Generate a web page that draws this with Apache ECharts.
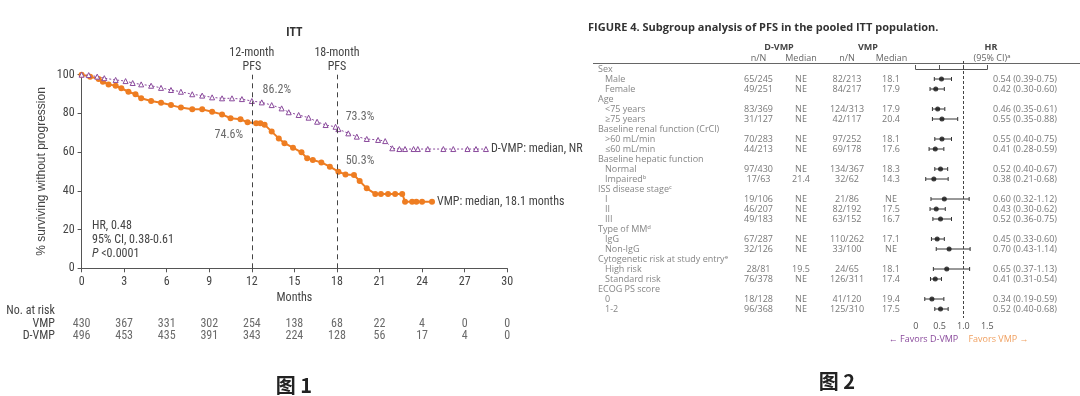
<!DOCTYPE html>
<html>
<head>
<meta charset="utf-8">
<title>PFS - ITT</title>
<script src="https://cdn.jsdelivr.net/npm/echarts@6/dist/echarts.min.js"></script>
<style>
  html, body { margin: 0; padding: 0; background: #fff; }
  #chart { width: 1080px; height: 396px; }
</style>
</head>
<body>
<div id="chart"></div>
<script>
// ---- 图1: Kaplan-Meier 曲线 (月, %) ----
const vmpCurve = [
  [0, 100], [0.6, 99], [1.2, 97.8], [1.5, 96.4], [1.9, 95], [2.4, 94.3], [2.8, 93],
  [3.3, 91.2], [3.8, 89.9], [4.2, 87.8], [4.9, 86.4], [5.6, 85.5], [6.3, 84.3],
  [7.0, 83], [7.8, 82.1], [8.5, 82.1], [9.2, 80.9], [9.9, 79.5], [10.5, 77.5],
  [11.2, 77], [11.7, 75.4], [12.3, 74.9], [12.6, 74.9], [12.9, 74.2], [13.4, 70.6],
  [13.9, 67.1], [14.3, 64.6], [14.9, 62.3], [15.5, 59.9], [15.9, 56.8], [16.3, 55.9],
  [16.9, 54.7], [17.5, 52.5], [18.1, 49.9], [18.6, 48.5], [19.2, 48.2], [19.6, 45.1],
  [20.1, 41.3], [20.7, 38.4], [21.1, 38.4], [21.6, 38.4], [22.1, 38.4], [22.6, 38.4],
  [22.8, 34.4], [23.3, 34.4], [23.6, 34.4], [24.0, 34.4], [24.7, 34.4]
];
const dvmpCurve = [
  [0, 100], [0.5, 99.8], [1.1, 99], [1.6, 98.2], [2.4, 97.3], [3.1, 96.7], [3.6, 95.7],
  [4.2, 95], [4.9, 94.3], [5.6, 93.2], [6.3, 92.1], [7.0, 91.2], [7.8, 89.9], [8.5, 89.2],
  [9.2, 88.3], [9.9, 87.8], [10.6, 87.8], [11.3, 87.4], [12.0, 86.4], [12.7, 85.7],
  [13.4, 84.3], [14.1, 82.6], [14.6, 80.6], [15.3, 79.2], [16.0, 77.8], [16.6, 75.7],
  [17.2, 74], [17.9, 73.1], [18.1, 71.9], [18.8, 69.7], [19.4, 68], [20.1, 66.8],
  [20.9, 66.3], [21.4, 65.7], [21.9, 62], [22.4, 61.6], [22.8, 61.6], [23.4, 61.6],
  [23.7, 61.6], [24.4, 61.6], [25.5, 61.6], [26.2, 61.6], [27.2, 61.6], [27.8, 61.6], [28.5, 61.6]
];
const vmpLandmarks = [[12, 74.6], [18, 50.3]];
const dvmpLandmarks = [[12, 86.2], [18, 73.3]];
const landmarkMonths = [12, 18];

const monthTicks = [0, 3, 6, 9, 12, 15, 18, 21, 24, 27, 30];
const riskRows = ['No. at risk', 'VMP', 'D-VMP'];
const riskVMP = [430, 367, 331, 302, 254, 138, 68, 22, 4, 0, 0];
const riskDVMP = [496, 453, 435, 391, 343, 224, 128, 56, 17, 4, 0];

// ---- 图2: 亚组分析森林图 ----
const rowLabels = [
  'Sex', 'Male', 'Female',
  'Age', '<75 years', '\u226575 years',
  'Baseline renal function (CrCl)', '>60 mL/min', '\u226460 mL/min',
  'Baseline hepatic function', 'Normal', 'Impaired\u1d47',
  'ISS disease stage\u1d9c', 'I', 'II', 'III',
  'Type of MM\u1d48', 'IgG', 'Non-IgG',
  'Cytogenetic risk at study entry\u1d49', 'High risk', 'Standard risk',
  'ECOG PS score', '0', '1-2'
];
const rowLevel = [0,1,1, 0,1,1, 0,1,1, 0,1,1, 0,1,1,1, 0,1,1, 0,1,1, 0,1,1];
const dvmpNN = ['', '65/245', '49/251', '', '83/369', '31/127', '', '70/283', '44/213', '',
  '97/430', '17/63', '', '19/106', '46/207', '49/183', '', '67/287', '32/126', '',
  '28/81', '76/378', '', '18/128', '96/368'];
const dvmpMedian = ['', 'NE', 'NE', '', 'NE', 'NE', '', 'NE', 'NE', '', 'NE', '21.4', '',
  'NE', 'NE', 'NE', '', 'NE', 'NE', '', '19.5', 'NE', '', 'NE', 'NE'];
const vmpNN = ['', '82/213', '84/217', '', '124/313', '42/117', '', '97/252', '69/178', '',
  '134/367', '32/62', '', '21/86', '82/192', '63/152', '', '110/262', '33/100', '',
  '24/65', '126/311', '', '41/120', '125/310'];
const vmpMedian = ['', '18.1', '17.9', '', '17.9', '20.4', '', '18.1', '17.6', '', '18.3', '14.3', '',
  'NE', '17.5', '16.7', '', '17.1', 'NE', '', '18.1', '17.4', '', '19.4', '17.5'];
const hr = [null, 0.54, 0.42, null, 0.46, 0.55, null, 0.55, 0.41, null, 0.52, 0.38, null,
  0.60, 0.43, 0.52, null, 0.45, 0.70, null, 0.65, 0.41, null, 0.34, 0.52];
const hrLow = [null, 0.39, 0.30, null, 0.35, 0.35, null, 0.40, 0.28, null, 0.40, 0.21, null,
  0.32, 0.30, 0.36, null, 0.33, 0.43, null, 0.37, 0.31, null, 0.19, 0.40];
const hrHigh = [null, 0.75, 0.60, null, 0.61, 0.88, null, 0.75, 0.59, null, 0.67, 0.68, null,
  1.12, 0.62, 0.75, null, 0.60, 1.14, null, 1.13, 0.54, null, 0.59, 0.68];

// ---- 样式 ----
const ORANGE = '#ee7d22';
const PURPLE = '#8a4a9c';
const TXT = '#444';
const NARROW = '"Liberation Sans Narrow", "Roboto Condensed", "Arial Narrow", "Liberation Sans", sans-serif';
const SANS = '"Open Sans", "Noto Sans", sans-serif';
const CJK = '"Noto Sans CJK SC", sans-serif';

// 表格列位置 (像素坐标轴)
const COL = { grp: 598, sub: 605, dNN: 758.5, dMed: 801, vNN: 847, vMed: 891, hr: 1057 };

const chart = echarts.init(document.getElementById('chart'));

function txt(x, y, text, extra) {
  return {
    type: 'text', x: x, y: y, silent: true,
    style: Object.assign({
      text: text, fill: TXT, fontFamily: SANS, fontSize: 9,
      align: 'center', verticalAlign: 'middle',
      textAlign: 'center', textVerticalAlign: 'middle'
    }, extra || {})
  };
}

function textColumn(values, x, position, extraLabel) {
  return {
    type: 'scatter', xAxisIndex: 3, yAxisIndex: 3, symbolSize: 0, silent: true,
    data: values.map((v, i) => ({ value: [x, i], name: v })).filter(d => d.name !== ''),
    label: Object.assign({
      show: true, position: position, distance: 0,
      formatter: p => p.name, color: '#555', fontFamily: SANS, fontSize: 9
    }, extraLabel || {})
  };
}

const forestRows = hr.map((v, i) => v == null ? null : [hrLow[i], hrHigh[i], i, v]).filter(Boolean);

const option = {
  animation: false,
  backgroundColor: '#fff',
  grid: [
    { left: 81.6, top: 74.7, width: 425.6, height: 193.6 },   // KM
    { left: 81.6, top: 304.6, width: 425.6, height: 38.1 },   // at risk
    { left: 915.7, top: 61, width: 71.6, height: 257 },       // forest
    { left: 580, top: 61, width: 500, height: 257 }           // 表格文字
  ],
  xAxis: [
    {
      gridIndex: 0, type: 'value', min: 0, max: 30, interval: 3,
      splitLine: { show: false },
      axisLine: { lineStyle: { color: '#555', width: 1 } },
      axisTick: { length: 4, lineStyle: { color: '#555' } },
      axisLabel: { color: TXT, fontFamily: NARROW, fontSize: 12, margin: 8 },
      name: 'Months', nameLocation: 'middle', nameGap: 24,
      nameTextStyle: { color: TXT, fontFamily: NARROW, fontSize: 12 }
    },
    { gridIndex: 1, type: 'value', min: 0, max: 30, show: false },
    {
      gridIndex: 2, type: 'value', min: 0, max: 1.5, interval: 0.5,
      splitLine: { show: false },
      axisLine: { lineStyle: { color: '#555', width: 1 } },
      axisTick: { inside: true, length: 4, lineStyle: { color: '#555' } },
      axisLabel: {
        color: '#555', fontFamily: SANS, fontSize: 9, margin: 4,
        formatter: v => (v === 0 ? '0' : v.toFixed(1))
      }
    },
    { gridIndex: 3, type: 'value', min: 580, max: 1080, show: false }
  ],
  yAxis: [
    {
      gridIndex: 0, type: 'value', min: 0, max: 100, interval: 20,
      splitLine: { show: false },
      axisLine: { show: true, lineStyle: { color: '#555', width: 1 } },
      axisTick: { show: true, length: 4, lineStyle: { color: '#555' } },
      axisLabel: { color: TXT, fontFamily: NARROW, fontSize: 12, margin: 7 },
      name: '% surviving without progression', nameLocation: 'middle', nameGap: 34,
      nameTextStyle: { color: TXT, fontFamily: '"Liberation Sans", sans-serif', fontSize: 12 }
    },
    {
      gridIndex: 1, type: 'category', data: riskRows, inverse: true,
      axisLine: { show: false }, axisTick: { show: false },
      axisLabel: { interval: 0, color: TXT, fontFamily: NARROW, fontSize: 12, margin: 26.6 }
    },
    { gridIndex: 2, type: 'value', min: -0.8, max: 24.9, inverse: true, show: false },
    { gridIndex: 3, type: 'value', min: -0.8, max: 24.9, inverse: true, show: false }
  ],
  graphic: [
    txt(294.4, 33, 'ITT', { fontFamily: NARROW, fontSize: 12, fontWeight: 'bold', fill: '#333' }),
    {
      type: 'text', left: 92, top: 219, silent: true,
      style: {
        text: 'HR, 0.48\n95% CI, 0.38-0.61\n{i|P} <0.0001',
        fill: TXT, fontFamily: NARROW, fontSize: 12, lineHeight: 14,
        rich: { i: { fontStyle: 'italic', fontFamily: NARROW, fontSize: 12, fill: TXT, lineHeight: 14 } }
      }
    },
    txt(294, 385, '图 1', { fontFamily: CJK, fontSize: 20, fontWeight: 'bold', fill: '#222' }),
    txt(837, 381, '图 2', { fontFamily: CJK, fontSize: 20, fontWeight: 'bold', fill: '#222' }),
    txt(588, 28, 'FIGURE 4. Subgroup analysis of PFS in the pooled ITT population.',
      { fontSize: 11, fontWeight: 'bold', fill: '#333', align: 'left', textAlign: 'left' }),
    txt(779, 47.5, 'D-VMP', { fontWeight: 'bold', fill: '#444' }),
    txt(868, 47.5, 'VMP', { fontWeight: 'bold', fill: '#444' }),
    txt(991, 47.5, 'HR', { fontWeight: 'bold', fill: '#444' }),
    txt(COL.dNN, 58, 'n/N', { fill: '#666' }),
    txt(COL.dMed, 58, 'Median', { fill: '#666' }),
    txt(COL.vNN, 58, 'n/N', { fill: '#666' }),
    txt(COL.vMed + 0.5, 58, 'Median', { fill: '#666' }),
    txt(992, 58, '(95% CI)\u1d43', { fill: '#666' }),
    {
      type: 'line', silent: true,
      shape: { x1: 593, y1: 63.5, x2: 1080, y2: 63.5 },
      style: { stroke: '#666', lineWidth: 1 }
    },
    txt(923.5, 339, '\u2190 Favors D-VMP', { fill: PURPLE }),
    txt(998.5, 339, 'Favors VMP \u2192', { fill: '#f0a060' })
  ],
  series: [
    {
      name: 'VMP', type: 'line', xAxisIndex: 0, yAxisIndex: 0,
      data: vmpCurve, symbol: 'circle', symbolSize: 6, showAllSymbol: true,
      lineStyle: { color: ORANGE, width: 2 }, itemStyle: { color: ORANGE },
      endLabel: {
        show: true, formatter: 'VMP: median, 18.1 months', distance: 5,
        color: TXT, fontFamily: NARROW, fontSize: 12
      },
      markLine: {
        silent: true, symbol: 'none',
        lineStyle: { color: '#444', type: [5, 4], width: 1 },
        label: {
          show: true, position: 'end', distance: 1,
          color: TXT, fontFamily: NARROW, fontSize: 12, lineHeight: 14
        },
        data: landmarkMonths.map(m => [
          { coord: [m, 0] },
          { coord: [m, 100], label: { formatter: m + '-month\nPFS' } }
        ])
      }
    },
    {
      name: 'D-VMP', type: 'line', xAxisIndex: 0, yAxisIndex: 0,
      data: dvmpCurve, symbol: 'triangle', symbolSize: 5, showAllSymbol: true,
      lineStyle: { color: PURPLE, width: 1, type: [2, 2] },
      itemStyle: { color: '#fff', borderColor: PURPLE, borderWidth: 1 },
      endLabel: {
        show: true, formatter: 'D-VMP: median, NR', distance: 5,
        color: TXT, fontFamily: NARROW, fontSize: 12
      }
    },
    {
      // 12/18个月 PFS 数值标注
      type: 'scatter', xAxisIndex: 0, yAxisIndex: 0, symbolSize: 0, silent: true,
      data: [
        { value: dvmpLandmarks[0], label: { offset: [25, -11] } },
        { value: dvmpLandmarks[1], label: { offset: [23, -9] } },
        { value: vmpLandmarks[0], label: { offset: [-23, 11] } },
        { value: vmpLandmarks[1], label: { offset: [23, -10] } }
      ],
      label: {
        show: true, position: 'inside', formatter: p => p.value[1].toFixed(1) + '%',
        color: TXT, fontFamily: NARROW, fontSize: 12
      }
    },
    {
      // No. at risk
      type: 'scatter', xAxisIndex: 1, yAxisIndex: 1, symbolSize: 0, silent: true,
      data: monthTicks.map((m, i) => [m, 'VMP', riskVMP[i]])
        .concat(monthTicks.map((m, i) => [m, 'D-VMP', riskDVMP[i]])),
      label: {
        show: true, position: 'inside', formatter: p => p.value[2],
        color: TXT, fontFamily: NARROW, fontSize: 12
      }
    },
    {
      // 95% CI
      type: 'custom', xAxisIndex: 2, yAxisIndex: 2, silent: true,
      data: forestRows,
      encode: { x: [0, 1], y: 2 },
      renderItem: function (params, api) {
        const a = api.coord([api.value(0), api.value(2)]);
        const b = api.coord([api.value(1), api.value(2)]);
        const st = { stroke: '#333', lineWidth: 1 };
        return {
          type: 'group',
          children: [
            { type: 'line', shape: { x1: a[0], y1: a[1], x2: b[0], y2: b[1] }, style: st },
            { type: 'line', shape: { x1: a[0], y1: a[1] - 2, x2: a[0], y2: a[1] + 2 }, style: st },
            { type: 'line', shape: { x1: b[0], y1: b[1] - 2, x2: b[0], y2: b[1] + 2 }, style: st }
          ]
        };
      }
    },
    {
      type: 'scatter', xAxisIndex: 2, yAxisIndex: 2, silent: true,
      data: forestRows.map(r => [r[3], r[2]]),
      symbol: 'circle', symbolSize: 5, itemStyle: { color: '#111' },
      markLine: {
        silent: true, symbol: 'none', label: { show: false },
        lineStyle: { color: '#444', type: [3, 2], width: 1 },
        data: [{ xAxis: 1 }]
      }
    },
    textColumn(rowLabels.map((l, i) => rowLevel[i] === 0 ? l : ''), COL.grp, 'right', { color: '#666' }),
    textColumn(rowLabels.map((l, i) => rowLevel[i] === 1 ? l : ''), COL.sub, 'right', { color: '#666' }),
    textColumn(dvmpNN, COL.dNN, 'inside'),
    textColumn(dvmpMedian, COL.dMed, 'inside'),
    textColumn(vmpNN, COL.vNN, 'inside'),
    textColumn(vmpMedian, COL.vMed, 'inside'),
    textColumn(hr.map((v, i) => v == null ? '' :
      v.toFixed(2) + ' (' + hrLow[i].toFixed(2) + '-' + hrHigh[i].toFixed(2) + ')'), COL.hr, 'left')
  ]
};

chart.setOption(option);
</script>
</body>
</html>
